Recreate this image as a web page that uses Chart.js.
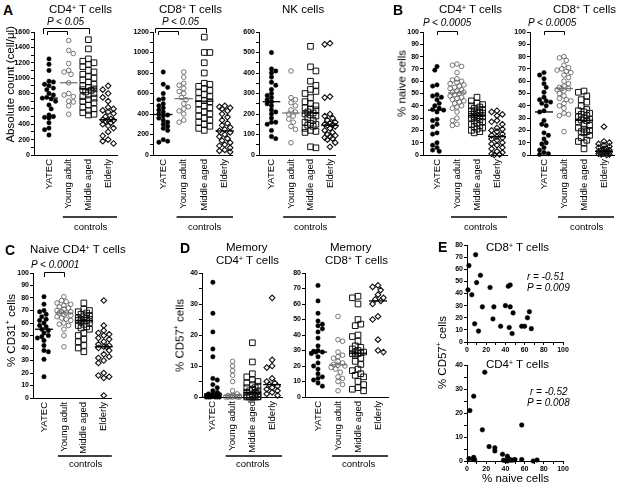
<!DOCTYPE html>
<html><head><meta charset="utf-8">
<script src="https://cdn.jsdelivr.net/npm/chart.js@4"></script>
<style>
html,body{margin:0;padding:0;background:#fff;}
body{width:622px;height:490px;position:relative;overflow:hidden;font-family:"Liberation Sans",Arial,Helvetica,sans-serif;}
canvas{position:absolute;}
.t{position:absolute;white-space:nowrap;color:#000;line-height:1;font-weight:normal;}
.t sup{font-size:60%;vertical-align:0.45em;line-height:0;}
.rot{writing-mode:vertical-rl;transform:rotate(180deg);}
</style></head><body>
<script>
const FONT = '"Liberation Sans", Arial, Helvetica, sans-serif';
const groups = ['YATEC', 'Young adult', 'Middle aged', 'Elderly'];

// ---- Panel A: absolute counts (cells/µl) ----
const aCd4Yatec   = [1250, 1180, 1100, 960, 950, 920, 900, 870, 850, 800, 780, 750, 740, 730, 700, 650, 600, 520, 500, 490, 480, 420, 350, 330, 260];
const aCd4Young   = [1490, 1360, 1320, 1190, 1100, 1080, 1050, 940, 800, 780, 760, 700, 690, 640, 530];
const aCd4Middle  = [1500, 1380, 1250, 1220, 1200, 1180, 1150, 1100, 1080, 1050, 1020, 1000, 980, 950, 920, 900, 880, 860, 850, 840, 820, 800, 780, 760, 740, 720, 700, 680, 650, 620, 600, 580, 550, 530, 520];
const aCd4Elderly = [900, 850, 800, 750, 700, 620, 600, 580, 560, 540, 500, 470, 460, 455, 450, 440, 420, 400, 380, 350, 300, 250, 200, 180, 150];

const aCd8Yatec   = [810, 690, 660, 600, 550, 540, 500, 480, 460, 440, 420, 400, 390, 380, 360, 340, 320, 300, 280, 260, 240, 150, 135, 125];
const aCd8Young   = [810, 760, 700, 680, 650, 620, 600, 560, 540, 500, 470, 450, 430, 400, 340, 320];
const aCd8Middle  = [1150, 1000, 1000, 900, 800, 700, 690, 670, 650, 630, 610, 590, 570, 550, 530, 520, 500, 480, 460, 440, 420, 400, 380, 360, 340, 320, 300, 280, 260, 240];
const aCd8Elderly = [480, 470, 460, 450, 430, 400, 370, 340, 310, 290, 270, 250, 235, 220, 200, 180, 160, 140, 120, 100, 90, 70, 50, 40, 30];

const aNkYatec    = [500, 420, 410, 400, 380, 355, 340, 320, 300, 290, 280, 270, 260, 250, 240, 220, 210, 200, 180, 160, 160, 150, 120, 90, 80];
const aNkYoung    = [410, 280, 270, 255, 240, 220, 210, 200, 190, 175, 160, 140, 125, 60];
const aNkMiddle   = [530, 430, 410, 360, 340, 320, 310, 300, 280, 260, 250, 240, 230, 225, 220, 210, 205, 200, 195, 190, 180, 170, 160, 155, 150, 145, 140, 130, 120, 115, 110, 40, 35];
const aNkElderly  = [545, 540, 285, 280, 200, 190, 180, 170, 160, 155, 150, 148, 145, 140, 130, 120, 110, 100, 95, 90, 85, 80, 75, 60, 40];

// ---- Panel B: % naive cells ----
const bCd4Yatec   = [72, 69, 57, 56, 49, 48, 47, 45, 42, 40, 38, 37, 36.5, 35, 29, 28, 25, 23, 18, 17, 10, 8, 6, 4, 3];
const bCd4Young   = [74, 73, 72, 67, 62, 61, 60, 59, 58, 57, 56, 55, 54, 53, 52, 51, 51, 50, 49, 48, 47, 46, 45, 44, 43, 42, 40, 39, 38, 35, 30, 28, 25, 24];
const bCd4Middle  = [47, 44, 42, 41, 40, 39, 38, 37, 36, 36, 35, 35, 34, 34, 33, 33, 32, 32, 31, 31, 30, 30, 29, 28, 27, 26, 25, 24, 23, 22, 21, 20, 19, 18];
const bCd4Elderly = [36, 35, 33, 32, 28, 27, 25, 22, 21, 20, 19, 17, 16, 15, 14, 13, 12, 10, 9, 8, 6, 5, 3, 2, 1, 0.5, 0];

const bCd8Yatec   = [67, 65, 62, 58, 55, 51, 47, 45, 44, 43, 42, 40, 36, 35, 28, 25, 24, 18, 16, 13, 10, 9, 6, 4, 2, 1, 0.5];
const bCd8Young   = [80, 79, 77, 73, 71, 70, 69, 68, 67, 65, 63, 60, 58, 56, 55, 54, 54, 53, 52, 50, 48, 46, 45, 44, 42, 40, 38, 34, 33, 32, 19];
const bCd8Middle  = [52, 51, 48, 45, 43, 40, 37, 36, 35, 34, 33, 32, 31, 30, 29, 28.5, 28, 27, 25, 24, 22, 21, 20, 19, 19, 18, 16, 14, 12, 11, 10, 5];
const bCd8Elderly = [23, 11, 10, 9, 8, 7, 6, 5, 5, 4, 4, 3, 3, 3, 2, 2, 2, 1.5, 1, 1, 0.5, 0.5, 0];

// ---- Panel C: % CD31+ of naive CD4+ ----
const cYatec      = [81, 75, 70, 69, 67, 65, 63, 62, 60, 58, 57, 55, 54, 52, 50, 49, 48, 46, 42, 38, 37, 31, 17];
const cYoung      = [81, 78, 77, 76, 75, 74, 73, 72, 71, 70, 69, 69, 68, 68, 67, 66, 65, 64, 63, 62, 60, 59, 58, 55, 50, 41];
const cMiddle     = [76, 71, 70, 69, 68, 67, 66, 65, 64, 64, 63, 63, 62, 62, 62, 61, 60, 59, 58, 57, 56, 55, 52, 50, 47, 45, 42, 40, 37];
const cElderly    = [78, 58, 54, 52, 51, 50, 48, 47, 45, 43, 42, 41, 41, 40, 38, 35, 33, 32, 30, 28, 20, 18, 17, 16, 2];

// ---- Panel D: % CD57+ of memory cells ----
const dCd4Yatec   = [37, 27, 21, 15.5, 13, 6, 5.5, 4, 3, 2, 1.5, 1, 1, 0.8, 0.5, 0.5, 0.3, 0.2, 0, 0, 0, 0, 0, 0];
const dCd4Young   = [11.5, 10, 8.5, 7, 5, 2, 1, 0.5, 0.5, 0.3, 0.2, 0.1, 0, 0, 0, 0, 0];
const dCd4Middle  = [17.5, 11.3, 7.5, 6.5, 5.5, 5, 4.5, 4, 3.5, 3, 3, 2.5, 2, 2, 1.5, 1.5, 1, 1, 0.5, 0.5, 0.3, 0.2, 0.1, 0, 0, 0, 0, 0, 0, 0];
const dCd4Elderly = [32, 12, 10, 9.5, 6, 5, 4.5, 4, 3.5, 3, 2.5, 2, 1.5, 1, 0.5];

const dCd8Yatec   = [72, 62, 54, 49, 47, 46, 44, 42, 38, 33, 30, 29.5, 29, 29, 28, 26, 22, 20, 18, 15, 13, 12, 11, 9, 7];
const dCd8Young   = [52, 37, 36, 29, 27, 26, 25, 23, 22, 21, 20.5, 20, 19, 18, 16, 13, 12, 10, 8, 4];
const dCd8Middle  = [65, 64, 60, 50, 47, 46, 40, 39, 36, 33, 32, 31, 30, 29, 29, 28.5, 28, 28, 27, 25, 23, 21, 18, 17, 15, 14, 13, 10, 8, 6, 5, 4];
const dCd8Elderly = [72, 71, 69, 66, 64, 63, 62, 60, 52, 50, 37, 30, 29];

// ---- Panel E: % naive vs % CD57+ ----
const eCd8Naive = [2, 9, 14, 10, 1, 5, 16, 8, 12, 24, 28, 27, 35, 40, 43, 45, 45, 44, 47, 48, 57, 60, 63, 65, 67];
const eCd8Cd57  = [63, 72, 55, 49, 43, 39, 29, 15, 9, 45, 29, 19, 13, 30, 46, 47, 29, 12, 7, 24, 13, 13, 20, 25, 11];
const eCd4Naive = [3, 7, 18.5, 16, 2, 6, 7, 8, 23, 29, 29, 37, 42, 38, 40, 42, 44, 46, 48, 50, 57, 57, 69, 73, 44];
const eCd4Cd57  = [21, 27, 37, 13, 1, 0.8, 1.5, 0.5, 6, 5.5, 4.2, 2.8, 2, 0.3, 0.2, 0, 0.5, 0.3, 0.4, 0.6, 15, 0.6, 0, 0.4, 0.8];

// ---------------- rendering ----------------
Chart.defaults.font.family = FONT;
const STY = [
  {ps:'circle',  r:2.2, bg:'#000', bc:'#000', bw:0.5, d:4.4, med:'#000'},
  {ps:'circle',  r:2.3, bg:'rgba(0,0,0,0)', bc:'#555', bw:0.8, d:4.6, med:'#777'},
  {ps:'rect',    r:4.0, bg:'rgba(0,0,0,0)', bc:'#111', bw:1.0, d:5.6, med:'#000'},
  {ps:'rectRot', r:2.8, bg:'rgba(0,0,0,0)', bc:'#111', bw:1.1, d:5.4, med:'#000'}
];
const AXW = 30, PADT = 10, PADR = 8, XH = 70;

function median(a){const s=a.slice().sort((x,y)=>x-y);const n=s.length;return n%2?s[(n-1)/2]:(s[n/2-1]+s[n/2])/2;}

function swarm(vals, g, pxX, pxY, d, maxOff){
  const order = vals.map((v,i)=>i).sort((a,b)=>vals[b]-vals[a]);
  const placed=[], out=[];
  const step=d*0.5, cands=[0];
  for(let k=1;k*step<=maxOff;k++){cands.push(k*step,-k*step);}
  order.forEach((i,n)=>{
    const py=vals[i]*pxY;
    let best=0, bestScore=-1;
    for(const c0 of cands){
      const c=(n%2)?-c0:c0;
      let md=Infinity;
      for(const p of placed){const dd=Math.hypot(p.x-c,p.y-py); if(dd<md) md=dd;}
      if(md>=d*0.9){best=c;break;}
      if(md>bestScore){bestScore=md;best=c;}
    }
    placed.push({x:best,y:py});
    out.push({x:g+best/pxX, y:vals[i]});
  });
  return out;
}

const extras = {
  id:'extras',
  afterDraw(chart, args, o){
    const ctx=chart.ctx, xs=chart.scales.x, top=o.top||0;
    ctx.save(); ctx.strokeStyle='#000'; ctx.lineWidth=1;
    (o.brackets||[]).forEach(b=>{
      const xa=Math.round(xs.getPixelForValue(b[0]))+0.5, xb=Math.round(xs.getPixelForValue(b[1]))+0.5;
      const yt=Math.round(b[2]-top)+0.5, yb=b[3]-top;
      ctx.beginPath(); ctx.moveTo(xa,yb); ctx.lineTo(xa,yt); ctx.lineTo(xb,yt); ctx.lineTo(xb,yb); ctx.stroke();
    });
    if(o.controls){
      const c=o.controls;
      ctx.lineWidth=1.4;
      ctx.beginPath(); ctx.moveTo(xs.getPixelForValue(c[0]),c[2]-top); ctx.lineTo(xs.getPixelForValue(c[1]),c[2]-top); ctx.stroke();
    }
    ctx.restore();
  }
};

function makeCanvas(left, top, W, H){
  const cv=document.createElement('canvas');
  cv.width=W; cv.height=H;
  cv.style.left=left+'px'; cv.style.top=top+'px'; cv.style.width=W+'px'; cv.style.height=H+'px';
  document.body.appendChild(cv);
  return cv;
}
function tickList(min,max,step){const a=[];for(let v=min;v<=max+1e-9;v+=step)a.push({value:+v.toFixed(6)});return a;}
function isMajor(v,m){return Math.abs(v/m-Math.round(v/m))<1e-6;}

function yScale(yr, step, major){
  return {type:'linear', min:yr[0], max:yr[1],
    afterBuildTicks:s=>{s.ticks=tickList(yr[0],yr[1],step);},
    afterFit:s=>{s.width=AXW;},
    ticks:{autoSkip:false, padding:1, color:'#000', font:{family:FONT,size:7,weight:'bold'}, callback:v=>isMajor(v,major)?String(v):''},
    grid:{drawOnChartArea:false, drawTicks:true, tickLength:3, color:'#000', lineWidth:1},
    border:{color:'#000', width:1}};
}

function stripChart(c){
  const [x0,y0,x1,y1]=c.area;
  const left=x0-AXW, top=y0-PADT, W=x1-left+PADR, H=y1-top+XH;
  const cv=makeCanvas(left,top,W,H);
  const pxX=(x1-x0)/(c.xr[1]-c.xr[0]), pxY=(y1-y0)/(c.yr[1]-c.yr[0]);
  const datasets=[];
  c.series.forEach((vals,g)=>{
    const s=STY[g], m=median(vals);
    datasets.push({type:'line', data:[{x:g-0.45,y:m},{x:g+0.45,y:m}], borderColor:s.med, borderWidth:1.3, pointRadius:0, order:0, clip:false});
    datasets.push({type:'scatter', data:swarm(vals,g,pxX,pxY,s.d,8), pointStyle:s.ps, pointRadius:s.r, backgroundColor:s.bg, borderColor:s.bc, borderWidth:s.bw, order:1, clip:false});
  });
  new Chart(cv,{type:'scatter', data:{datasets}, plugins:[extras],
    options:{responsive:false, animation:false, devicePixelRatio:1, events:[],
      layout:{padding:{left:0,top:PADT,right:PADR,bottom:0}},
      plugins:{legend:{display:false}, tooltip:{enabled:false}, extras:{top, brackets:c.brackets, controls:c.controls}},
      scales:{
        x:{type:'linear', min:c.xr[0], max:c.xr[1],
          afterBuildTicks:s=>{s.ticks=[0,1,2,3].map(v=>({value:v}));},
          afterFit:s=>{s.height=XH;},
          ticks:{autoSkip:false, minRotation:90, maxRotation:90, padding:4, color:'#000', font:{family:FONT,size:9.5}, callback:v=>groups[Math.round(v)]},
          grid:{drawOnChartArea:false, drawTicks:false}, border:{color:'#000', width:1}},
        y:yScale(c.yr,c.step,c.major)
      }}});
}

function scatterChart(c){
  const [x0,y0,x1,y1]=c.area, XHs=18;
  const left=x0-AXW, top=y0-PADT, W=x1-left+PADR, H=y1-top+XHs;
  const cv=makeCanvas(left,top,W,H);
  const data=c.xs.map((x,i)=>({x, y:c.ys[i]}));
  new Chart(cv,{type:'scatter', data:{datasets:[{data, pointStyle:'circle', pointRadius:2.3, backgroundColor:'#000', borderColor:'#000', borderWidth:0.5, clip:false}]},
    options:{responsive:false, animation:false, devicePixelRatio:1, events:[],
      layout:{padding:{left:0,top:PADT,right:PADR,bottom:0}},
      plugins:{legend:{display:false}, tooltip:{enabled:false}},
      scales:{
        x:{type:'linear', min:0, max:100,
          afterBuildTicks:s=>{s.ticks=tickList(0,100,10);},
          afterFit:s=>{s.height=XHs;},
          ticks:{autoSkip:false, maxRotation:0, padding:1, color:'#000', font:{family:FONT,size:7,weight:'bold'}, callback:v=>isMajor(v,20)?String(v):''},
          grid:{drawOnChartArea:false, drawTicks:true, tickLength:3, color:'#000'}, border:{color:'#000', width:1}},
        y:yScale(c.yr,c.step,c.major)
      }}});
}

// Panel A
stripChart({area:[34,32,117,155], xr:[-0.76,3.45], yr:[0,1600], step:100, major:200,
  series:[aCd4Yatec,aCd4Young,aCd4Middle,aCd4Elderly], brackets:[[-0.3,2.05,28,34],[-0.1,0.9,31,35]], controls:[0.7,3.45,217]});
stripChart({area:[153,32,233,155], xr:[-0.5,3.4], yr:[0,1200], step:100, major:200,
  series:[aCd8Yatec,aCd8Young,aCd8Middle,aCd8Elderly], brackets:[[-0.4,2.1,28,33],[-0.25,0.7,31,35]], controls:[0.65,3.4,217]});
stripChart({area:[259,32,338,155], xr:[-0.64,3.3], yr:[0,600], step:50, major:100,
  series:[aNkYatec,aNkYoung,aNkMiddle,aNkElderly], brackets:[], controls:[0.6,3.3,217]});
// Panel B
stripChart({area:[423,32,507,155], xr:[-0.7,3.5], yr:[0,100], step:10, major:10,
  series:[bCd4Yatec,bCd4Young,bCd4Middle,bCd4Elderly], brackets:[[0,1,31,35]], controls:[0.7,3.5,217]});
stripChart({area:[530,32,614,155], xr:[-0.7,3.5], yr:[0,100], step:10, major:10,
  series:[bCd8Yatec,bCd8Young,bCd8Middle,bCd8Elderly], brackets:[[0,1,31,35]], controls:[0.7,3.5,217]});
// Panel C
stripChart({area:[33,273,112,398], xr:[-0.55,3.4], yr:[0,100], step:10, major:10,
  series:[cYatec,cYoung,cMiddle,cElderly], brackets:[[0,1,272,277]], controls:[0.7,3.4,456]});
// Panel D
stripChart({area:[202,273,282,397], xr:[-0.55,3.5], yr:[0,40], step:5, major:10,
  series:[dCd4Yatec,dCd4Young,dCd4Middle,dCd4Elderly], brackets:[], controls:[0.65,3.5,456]});
stripChart({area:[305,273,388,397], xr:[-0.65,3.5], yr:[0,80], step:10, major:10,
  series:[dCd8Yatec,dCd8Young,dCd8Middle,dCd8Elderly], brackets:[], controls:[0.7,3.5,456]});
// Panel E
scatterChart({area:[467,245,563,342], yr:[0,80], step:10, major:10, xs:eCd8Naive, ys:eCd8Cd57});
scatterChart({area:[467,365,563,461], yr:[0,40], step:5, major:10, xs:eCd4Naive, ys:eCd4Cd57});

// ---------------- text ----------------
function T(html, x, y, css, mode){
  const d=document.createElement('div');
  d.className='t'+(mode==='rot'?' rot':''); d.innerHTML=html;
  d.style.cssText=(css||'');
  d.style.left='0px'; d.style.top='0px';
  document.body.appendChild(d);
  const w=d.offsetWidth, h=d.offsetHeight;
  const L = mode==='left' ? x : x-w/2;
  d.style.left=Math.round(L)+'px';
  d.style.top=Math.round(y-h/2)+'px';
}
const LET='font-size:14px;font-weight:bold;', TIT='font-size:11.5px;', PV='font-size:10px;font-style:italic;', CTL='font-size:9.5px;', YT='font-size:11.5px;';
// A
T('A',8,10,LET); T('CD4<sup>+</sup> T cells',80,10,TIT); T('CD8<sup>+</sup> T cells',190,10,TIT); T('NK cells',303,10,TIT);
T('P &lt; 0.05',65,22,PV); T('P &lt; 0.05',180,22,PV);
T('Absolute count (cell/μl)',11,84,YT,'rot');
T('controls',90,227,CTL); T('controls',204,227,CTL); T('controls',310,227,CTL);
// B
T('B',398,10,LET); T('CD4<sup>+</sup> T cells',470,10,TIT); T('CD8<sup>+</sup> T cells',584,10,TIT);
T('P &lt; 0.0005',447,23,PV); T('P &lt; 0.0005',552,23,PV);
T('% naive cells',403,83,YT,'rot');
T('controls',480,227,CTL); T('controls',586,227,CTL);
// C
T('C',10,250,LET); T('Naive CD4<sup>+</sup> T cells',78,250,TIT); T('P &lt; 0.0001',55,265,PV);
T('% CD31<sup>+</sup> cells',12,330,YT,'rot'); T('controls',85,464,CTL);
// D
T('D',185,248,LET);
T('Memory',247,248,TIT); T('CD4<sup>+</sup> T cells',247,261,TIT);
T('Memory',351,248,TIT); T('CD8<sup>+</sup> T cells',356,261,TIT);
T('% CD57<sup>+</sup> cells',181,335,YT,'rot');
T('controls',252,464,CTL); T('controls',358,464,CTL);
// E
T('E',442,247,LET); T('CD8<sup>+</sup> T cells',517,248,TIT); T('CD4<sup>+</sup> T cells',517,365,TIT);
T('r = -0.51',527,277,PV,'left'); T('P = 0.009',527,288,PV,'left');
T('r = -0.52',530,392,PV,'left'); T('P = 0.008',527,403,PV,'left');
T('% CD57<sup>+</sup> cells',443,352,YT,'rot'); T('% naive cells',515,479,YT);
</script>
</body></html>
